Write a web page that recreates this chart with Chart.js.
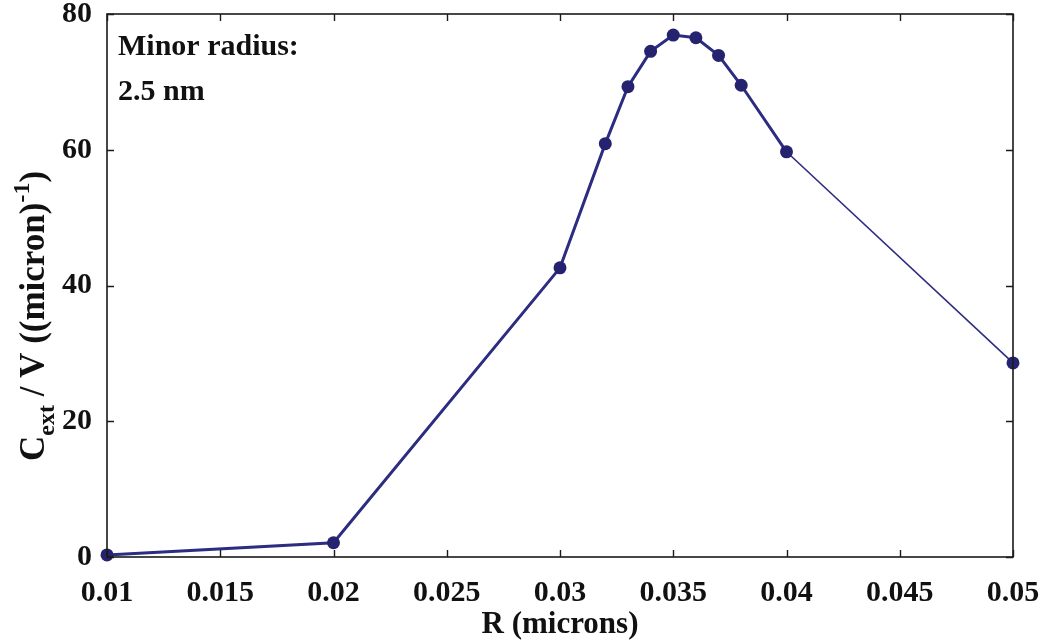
<!DOCTYPE html>
<html>
<head>
<meta charset="utf-8">
<script src="https://cdn.jsdelivr.net/npm/chart.js@4.4.1/dist/chart.umd.min.js"></script>
<style>
  html, body { margin: 0; padding: 0; background: #ffffff; }
  #wrap { width: 1045px; height: 644px; position: relative; }
</style>
</head>
<body>
<div id="wrap"><canvas id="c" width="1045" height="644"></canvas></div>
<script>
// ---- data ----
const radiusMicrons = [0.01, 0.02, 0.03, 0.032, 0.033, 0.034, 0.035, 0.036, 0.037, 0.038, 0.04, 0.05];
const cextPerVolume = [0.3, 2.1, 42.6, 60.9, 69.3, 74.5, 76.9, 76.5, 73.9, 69.5, 59.7, 28.6];
const xTickValues = [0.01, 0.015, 0.02, 0.025, 0.03, 0.035, 0.04, 0.045, 0.05];
const yTickValues = [0, 20, 40, 60, 80];
const xAxisTitle = 'R (microns)';
const annotationLines = ['Minor radius:', '2.5 nm'];

const FONT = "'Liberation Serif', 'Times New Roman', serif";
const LINE_COLOR = '#2c2c80';
const POINT_COLOR = '#25236f';

const points = radiusMicrons.map((r, i) => ({ x: r, y: cextPerVolume[i] }));

const decorPlugin = {
  id: 'decor',
  afterDraw(chart) {
    const ctx = chart.ctx;
    const a = chart.chartArea;
    const xs = chart.scales.x, ys = chart.scales.y;
    ctx.save();
    // box
    ctx.strokeStyle = '#1a1a1a';
    ctx.lineWidth = 1.6;
    ctx.strokeRect(a.left, a.top, a.right - a.left, a.bottom - a.top);
    // inward ticks
    const tl = 7;
    ctx.beginPath();
    xTickValues.forEach(v => {
      const px = Math.round(xs.getPixelForValue(v)) + 0.5;
      ctx.moveTo(px, a.bottom); ctx.lineTo(px, a.bottom - tl);
      ctx.moveTo(px, a.top); ctx.lineTo(px, a.top + tl);
    });
    yTickValues.forEach(v => {
      const py = Math.round(ys.getPixelForValue(v)) + 0.5;
      ctx.moveTo(a.left, py); ctx.lineTo(a.left + tl, py);
      ctx.moveTo(a.right, py); ctx.lineTo(a.right - tl, py);
    });
    ctx.lineWidth = 1.4;
    ctx.stroke();

    // annotation text
    ctx.fillStyle = '#111111';
    ctx.font = 'bold 30px ' + FONT;
    ctx.textBaseline = 'alphabetic';
    ctx.textAlign = 'left';
    ctx.fillText(annotationLines[0], a.left + 11, 55);
    ctx.fillText(annotationLines[1], a.left + 11, 100);

    // y-axis title with subscript / superscript
    const parts = [
      { t: 'C', f: 'bold 35px ' + FONT, dy: 0 },
      { t: 'ext', f: 'bold 24px ' + FONT, dy: 10 },
      { t: ' / V ((micron)', f: 'bold 35px ' + FONT, dy: 0 },
      { t: '-1', f: 'bold 24px ' + FONT, dy: -15 },
      { t: ')', f: 'bold 35px ' + FONT, dy: 0 }
    ];
    let total = 0;
    parts.forEach(p => { ctx.font = p.f; p.w = ctx.measureText(p.t).width; total += p.w; });
    ctx.translate(44, 316);
    ctx.rotate(-Math.PI / 2);
    let x = -total / 2;
    parts.forEach(p => {
      ctx.font = p.f;
      ctx.fillText(p.t, x, p.dy);
      x += p.w;
    });
    ctx.restore();
  }
};

new Chart(document.getElementById('c'), {
  type: 'scatter',
  data: {
    datasets: [{
      data: points,
      showLine: true,
      clip: false,
      borderColor: LINE_COLOR,
      borderWidth: 3,
      backgroundColor: POINT_COLOR,
      pointBackgroundColor: POINT_COLOR,
      pointBorderColor: POINT_COLOR,
      pointRadius: 6.5,
      pointBorderWidth: 0,
      tension: 0,
      segment: {
        borderWidth: c => (c.p0.parsed.x >= 0.0399 ? 1.6 : 3)
      }
    }]
  },
  options: {
    responsive: false,
    animation: false,
    layout: { padding: { left: 0, right: 32, top: 14, bottom: 0 } },
    plugins: { legend: { display: false }, tooltip: { enabled: false } },
    scales: {
      x: {
        type: 'linear',
        min: 0.01, max: 0.05,
        afterBuildTicks: s => { s.ticks = xTickValues.map(v => ({ value: v })); },
        afterFit: s => { s.height = 87; s.paddingLeft = 0; s.paddingRight = 0; },
        grid: { display: false },
        border: { display: false },
        ticks: {
          color: '#111111',
          padding: 13,
          maxRotation: 0,
          autoSkip: false,
          font: { family: FONT, size: 30, weight: 'bold', lineHeight: 1 },
          callback: v => String(Number(v.toFixed(3)))
        },
        title: {
          display: true,
          text: xAxisTitle,
          color: '#111111',
          font: { family: FONT, size: 31, weight: 'bold', lineHeight: 1 },
          padding: { top: 0, bottom: 4 }
        }
      },
      y: {
        type: 'linear',
        min: 0, max: 80,
        afterBuildTicks: s => { s.ticks = yTickValues.map(v => ({ value: v })); },
        afterFit: s => { s.width = 107; s.paddingTop = 0; s.paddingBottom = 0; },
        grid: { display: false },
        border: { display: false },
        ticks: {
          color: '#111111',
          padding: 7,
          font: { family: FONT, size: 30, weight: 'bold', lineHeight: 1 }
        }
      }
    }
  },
  plugins: [decorPlugin]
});
</script>
</body>
</html>
